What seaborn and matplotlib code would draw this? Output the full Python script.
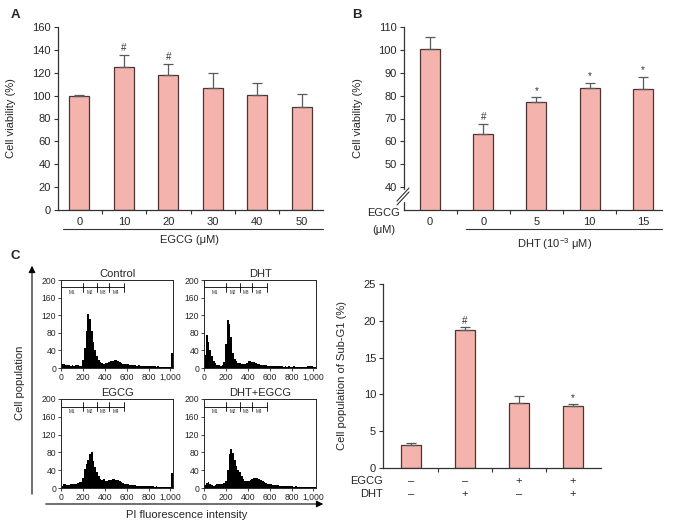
import numpy as np
import pandas as pd
import matplotlib
matplotlib.use("Agg")
import matplotlib.pyplot as plt
from matplotlib.lines import Line2D
from matplotlib.patches import FancyArrowPatch
import seaborn as sns

# ---------------- data ----------------
# panel A: EGCG alone
a_doses = ["0", "10", "20", "30", "40", "50"]
a_viability = [99.3, 125.1, 118.1, 106.8, 100.7, 89.9]
a_err = [1.5, 10.8, 9.9, 13.3, 10.7, 11.6]
a_marks = ["", "#", "#", "", "", ""]

# panel B: DHT + EGCG
b_doses = ["0", "0", "5", "10", "15"]
b_viability = [100.3, 63.3, 77.1, 83.3, 83.1]
b_err = [5.5, 4.4, 2.1, 2.4, 5.1]
b_marks = ["", "#", "*", "*", "*"]

# panel C: sub-G1 population
c_subg1 = [3.15, 18.8, 8.8, 8.4]
c_err = [0.3, 0.3, 1.05, 0.3]
c_marks = ["", "#", "", "*"]
c_egcg = ["–", "–", "+", "+"]
c_dht = ["–", "+", "–", "+"]

# flow cytometry histograms (counts per 16-channel bin)
hist_titles = ["Control", "DHT", "EGCG", "DHT+EGCG"]
hist_binwidth = 16
hist_control = [8, 10, 7, 6, 6, 5, 6, 5, 6, 7, 5, 4, 18, 45, 85, 122, 112, 85, 58, 40,
                28, 18, 13, 11, 10, 11, 12, 14, 16, 17, 19, 18, 17, 14, 12, 10, 9, 8, 8, 7,
                7, 6, 6, 5, 6, 5, 5, 4, 5, 4, 4, 5, 4, 4, 3, 4, 3, 3, 3, 3, 2, 3, 2, 35]
hist_dht = [30, 74, 58, 40, 28, 16, 11, 7, 6, 5, 6, 14, 55, 108, 100, 70, 35, 20, 15, 12,
            11, 10, 9, 10, 12, 15, 16, 14, 13, 11, 9, 8, 7, 7, 6, 6, 5, 5, 5, 4,
            5, 4, 4, 4, 4, 3, 4, 3, 4, 3, 3, 4, 3, 3, 3, 3, 2, 3, 3, 4, 5, 4, 3, 3]
hist_egcg = [5, 8, 9, 7, 7, 8, 9, 8, 10, 12, 14, 13, 22, 42, 55, 64, 76, 80, 60, 47,
             36, 27, 20, 19, 21, 15, 15, 18, 19, 20, 20, 18, 17, 15, 13, 11, 10, 9, 8, 7,
             7, 6, 6, 5, 5, 5, 5, 4, 5, 4, 4, 4, 4, 3, 4, 3, 3, 3, 3, 3, 3, 3, 2, 33]
hist_combo = [6, 12, 13, 9, 6, 5, 7, 8, 8, 9, 10, 11, 16, 40, 76, 87, 78, 62, 50, 41,
              36, 27, 20, 16, 15, 15, 18, 20, 22, 23, 22, 21, 18, 16, 14, 11, 10, 9, 8, 7,
              7, 6, 6, 5, 5, 5, 4, 5, 4, 4, 4, 3, 4, 3, 3, 3, 3, 3, 3, 2, 3, 3, 2, 3]
gate_edges = [0, 200, 332, 437, 575]
gate_names = ["M1", "M2", "M3", "M4"]

# ---------------- style ----------------
sns.set_style("ticks")
plt.rcParams["font.family"] = ["Liberation Sans", "DejaVu Sans"]
plt.rcParams["mathtext.default"] = "regular"

BAR = "#f4b3ac"
EDGE = "#4a3434"
ERR = "#5a5a5a"
W, H = 680, 525


def fx(x):
    return x / W


def fy(y):
    return 1 - y / H


def box(x0, y0, x1, y1):
    return [fx(x0), fy(y1), (x1 - x0) / W, (y1 - y0) / H]


def fig_line(fig, xs, ys, **kw):
    fig.add_artist(Line2D([fx(v) for v in xs], [fy(v) for v in ys],
                          transform=fig.transFigure, **kw))


def bar_panel(ax, vals, errs, marks, width):
    df = pd.DataFrame({"pos": range(len(vals)), "val": vals})
    sns.barplot(data=df, x="pos", y="val", ax=ax, color=BAR, saturation=1,
                edgecolor=EDGE, linewidth=0.9, width=width, errorbar=None)
    pos = np.arange(len(vals))
    ax.errorbar(pos, vals, yerr=[np.zeros(len(vals)), errs], fmt="none",
                ecolor=ERR, elinewidth=0.9, capsize=3.5, capthick=0.9, zorder=3)
    for p, v, e, m in zip(pos, vals, errs, marks):
        if m:
            ax.annotate(m, (p, v + e), xytext=(0, 1), textcoords="offset points",
                        ha="center", va="bottom", fontsize=7, color="#333333")
    sns.despine(ax=ax)
    for s in ["left", "bottom"]:
        ax.spines[s].set_color("#333333")
        ax.spines[s].set_linewidth(0.9)
    ax.set_xlabel("")
    ax.set_ylabel("")
    ax.set_xticks(pos)
    ax.set_xticks(pos[:-1] + 0.5, minor=True)
    ax.tick_params(axis="x", which="major", length=0, labelsize=8, pad=5)
    ax.tick_params(axis="x", which="minor", length=3, width=0.8, color="#333333")
    ax.tick_params(axis="y", length=3, width=0.8, color="#333333", labelsize=8, pad=2)


fig = plt.figure(figsize=(6.8, 5.25), dpi=100)

# ---------------- panel A ----------------
axA = fig.add_axes(box(58, 27, 323, 210))
bar_panel(axA, a_viability, a_err, a_marks, 0.45)
axA.set_xlim(-0.48, 5.48)
axA.set_ylim(0, 160)
axA.set_yticks(range(0, 161, 20))
axA.set_xticklabels(a_doses)
axA.set_ylabel("Cell viability (%)", fontsize=8)
axA.yaxis.set_label_coords(-0.158, 0.5)
fig_line(fig, [63, 323], [229, 229], color="#333333", lw=0.8)
fig.text(fx(190), fy(240), "EGCG (μM)", ha="center", va="center", fontsize=8)
fig.text(fx(15), fy(15), "A", ha="center", va="center", fontsize=9.5, fontweight="bold")

# ---------------- panel B ----------------
axB = fig.add_axes(box(404, 27, 662, 210))
bar_panel(axB, b_viability, b_err, b_marks, 0.375)
axB.set_xlim(-0.49, 4.36)
axB.set_ylim(30, 110)
axB.set_yticks(range(40, 111, 10))
axB.set_xticklabels(b_doses)
axB.set_ylabel("Cell viability (%)", fontsize=8)
axB.yaxis.set_label_coords(-0.159, 0.5)
# axis break on the y spine
fig_line(fig, [404, 404], [191, 200], color="white", lw=2.5)
fig_line(fig, [397, 409], [201, 188], color="#333333", lw=0.8)
fig_line(fig, [397, 409], [205, 192], color="#333333", lw=0.8)
fig.text(fx(384), fy(213), "EGCG", ha="center", va="center", fontsize=8)
fig.text(fx(384), fy(230), "(μM)", ha="center", va="center", fontsize=8)
fig_line(fig, [466, 662], [229, 229], color="#333333", lw=0.8)
fig.text(fx(555), fy(244), r"DHT (10$^{-3}$ μM)", ha="center", va="center", fontsize=8)
fig.text(fx(357), fy(15), "B", ha="center", va="center", fontsize=9.5, fontweight="bold")

# ---------------- panel C: sub-G1 bars ----------------
axC = fig.add_axes(box(383, 284, 601, 468))
bar_panel(axC, c_subg1, c_err, c_marks, 0.37)
axC.set_xlim(-0.52, 3.52)
axC.set_ylim(0, 25)
axC.set_yticks(range(0, 26, 5))
axC.set_xticklabels(["", "", "", ""])
axC.set_ylabel("Cell population of Sub-G1 (%)", fontsize=8)
axC.yaxis.set_label_coords(-0.165, 0.5)
for i, (e, d) in enumerate(zip(c_egcg, c_dht)):
    axC.text(i, -0.07, e, transform=axC.get_xaxis_transform(), ha="center",
             va="center", fontsize=8)
    axC.text(i, -0.14, d, transform=axC.get_xaxis_transform(), ha="center",
             va="center", fontsize=8)
fig.text(fx(383), fy(481), "EGCG", ha="right", va="center", fontsize=8)
fig.text(fx(383), fy(494), "DHT", ha="right", va="center", fontsize=8)
fig.text(fx(15), fy(256), "C", ha="center", va="center", fontsize=9.5, fontweight="bold")

# ---------------- panel C: histograms ----------------
hist_boxes = [box(61, 280, 173, 368), box(204, 280, 316, 368),
              box(61, 399, 173, 488), box(204, 399, 316, 488)]
hist_data = [hist_control, hist_dht, hist_egcg, hist_combo]
for rect, title, counts in zip(hist_boxes, hist_titles, hist_data):
    ax = fig.add_axes(rect)
    channels = np.arange(len(counts)) * hist_binwidth + hist_binwidth / 2
    hdf = pd.DataFrame({"channel": channels, "count": np.array(counts, dtype=float)})
    sns.histplot(data=hdf, x="channel", weights="count", binwidth=hist_binwidth,
                 binrange=(0, hist_binwidth * len(counts)), element="step",
                 fill=True, color="black", alpha=1, linewidth=0, ax=ax)
    ax.set_xlim(0, 1024)
    ax.set_ylim(0, 200)
    ax.set_xlabel("")
    ax.set_ylabel("")
    ax.set_title(title, fontsize=8, pad=2)
    ax.set_xticks([0, 200, 400, 600, 800, 1000])
    ax.set_xticklabels(["0", "200", "400", "600", "800", "1,000"])
    ax.set_yticks(range(0, 201, 40))
    ax.tick_params(length=2, width=0.6, labelsize=6.2, pad=1.5)
    for s in ax.spines.values():
        s.set_linewidth(0.7)
    # M1-M4 gates
    ax.plot([gate_edges[0], gate_edges[-1]], [183, 183], color="black", lw=0.6)
    for g in gate_edges:
        ax.plot([g, g], [173, 193], color="black", lw=0.6)
    for g0, g1, name in zip(gate_edges[:-1], gate_edges[1:], gate_names):
        ax.text((g0 + g1) / 2, 172, name, ha="center", va="center", fontsize=3.3)

# big axis arrows
fig.add_artist(FancyArrowPatch(
    (fx(32), fy(497)), (fx(32), fy(263)), transform=fig.transFigure,
    arrowstyle="-|>,head_length=4,head_width=2", color="black", lw=0.8))
fig.add_artist(FancyArrowPatch(
    (fx(43), fy(504)), (fx(326), fy(504)), transform=fig.transFigure,
    arrowstyle="-|>,head_length=4,head_width=2", color="black", lw=0.8))
fig.text(fx(20), fy(383), "Cell population", rotation=90, ha="center",
         va="center", fontsize=8)
fig.text(fx(187), fy(515), "PI fluorescence intensity", ha="center",
         va="center", fontsize=8)

fig.savefig("out.png", dpi=100)
